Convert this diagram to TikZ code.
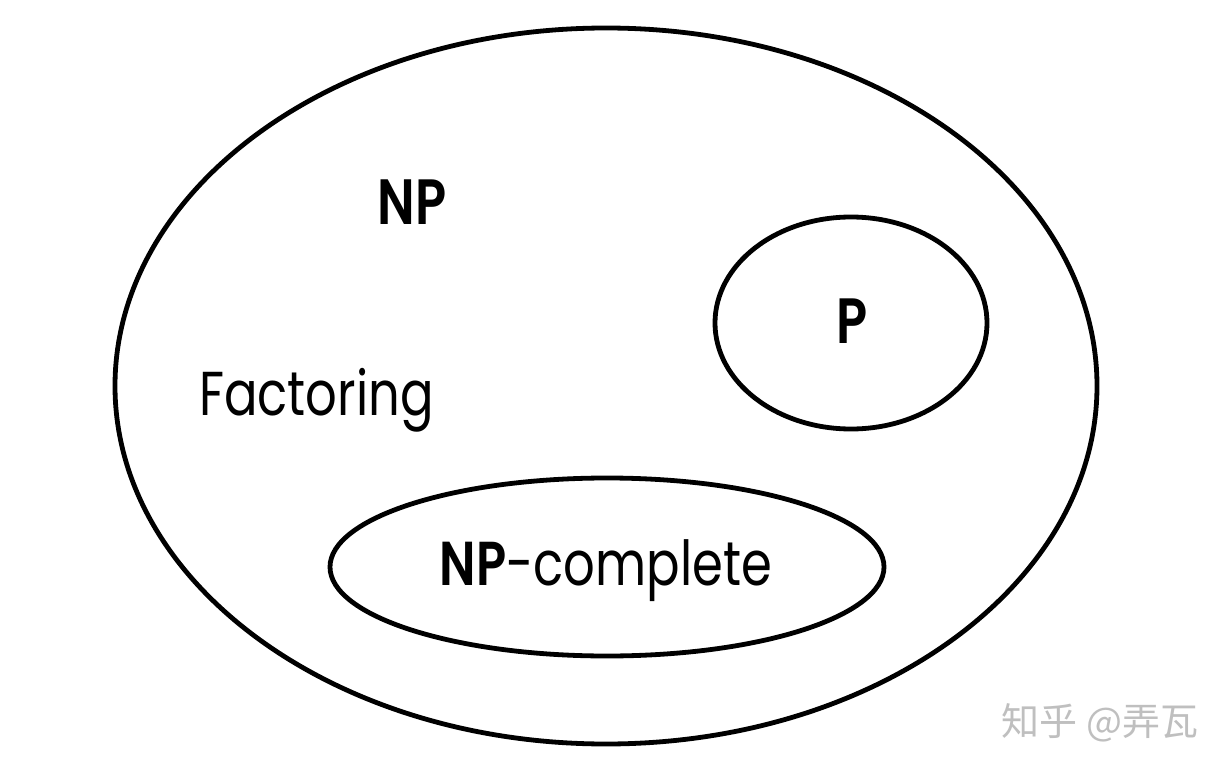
\documentclass[tikz,border=0pt]{standalone}
\usepackage{fontspec}
\newfontfamily\fut[FakeStretch=0.8,BoldFont={Poppins SemiBold}]{Poppins}
\newfontfamily\cjk{Noto Sans CJK SC}
\usetikzlibrary{shapes.geometric}
\begin{document}
\begin{tikzpicture}[x=1pt,y=-1pt,
  setline/.style={draw=black,line width=4.8pt},
  lbl/.style={inner sep=0pt,font=\fut\fontsize{62}{62}\selectfont},
  blbl/.style={inner sep=0pt,font=\fut\bfseries\fontsize{64}{64}\selectfont}]
\useasboundingbox[fill=white] (0,0) rectangle (1227,773);
\draw[setline] (606,386) ellipse [x radius=491, y radius=358];
\draw[setline] (851,323) ellipse [x radius=136, y radius=106];
\draw[setline] (607,567) ellipse [x radius=277, y radius=89];
\node[blbl,anchor=base] (np) at (412,224) {NP};
\node[blbl,anchor=base] (p) at (852,343) {P};
\node[lbl,anchor=base west] (fact) at (199,415) {Factoring};
\node[lbl,anchor=base] (npc) at (606,585) {\textbf{NP}-complete};
\node[inner sep=0pt,anchor=base,text=black!25,font=\cjk\fontsize{38}{38}\selectfont] (wm) at (1100,735) {知乎 @弄瓦};
\end{tikzpicture}
\end{document}
